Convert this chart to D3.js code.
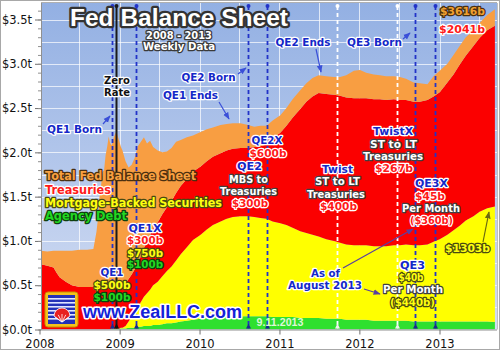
<!DOCTYPE html>
<html><head><meta charset="utf-8">
<script src="https://cdn.jsdelivr.net/npm/d3@7/dist/d3.min.js"></script>
<style>html,body{margin:0;padding:0;background:#fff;}svg{display:block;}</style>
</head><body>
<script>
// ---------- data (trillions of dollars, weekly H.4.1) ----------
const dates = ["2008-01-02","2008-02-06","2008-03-05","2008-03-19","2008-04-02","2008-04-30","2008-05-28","2008-07-02","2008-08-06","2008-09-03",
"2008-09-17","2008-09-24","2008-10-01","2008-10-08","2008-10-15","2008-10-22","2008-10-29","2008-11-05","2008-11-12","2008-11-19",
"2008-11-26","2008-12-03","2008-12-10","2008-12-17","2008-12-24","2008-12-31","2009-01-07","2009-01-14","2009-01-28","2009-02-11",
"2009-02-25","2009-03-11","2009-03-25","2009-04-08","2009-04-22","2009-05-06","2009-05-20","2009-06-03","2009-06-24","2009-07-15",
"2009-08-05","2009-08-26","2009-09-16","2009-10-07","2009-11-04","2009-12-02","2010-01-06","2010-02-03","2010-03-03","2010-04-07",
"2010-05-05","2010-06-02","2010-07-07","2010-08-11","2010-09-08","2010-10-06","2010-11-03","2010-12-01","2011-01-05","2011-02-02",
"2011-03-02","2011-04-06","2011-05-04","2011-06-01","2011-06-29","2011-08-03","2011-09-07","2011-10-05","2011-11-02","2011-12-07",
"2012-01-04","2012-02-01","2012-03-07","2012-04-04","2012-05-02","2012-06-06","2012-07-04","2012-08-01","2012-09-05","2012-10-03",
"2012-11-07","2012-12-05","2013-01-02","2013-02-06","2013-03-06","2013-04-03","2013-05-01","2013-06-05","2013-07-03","2013-08-07",
"2013-09-11"];
const totalAssets = [0.89,0.88,0.89,0.89,0.89,0.89,0.89,0.90,0.90,0.91,
1.10,1.25,1.50,1.62,1.78,1.80,1.97,2.06,2.18,2.10,
2.08,2.15,2.20,2.24,2.18,2.12,2.06,2.02,1.90,1.83,
1.86,1.94,2.07,2.12,2.17,2.10,2.13,2.06,2.02,2.00,
2.01,2.05,2.12,2.14,2.17,2.19,2.23,2.26,2.28,2.31,
2.32,2.33,2.33,2.31,2.29,2.30,2.30,2.36,2.42,2.50,
2.60,2.70,2.78,2.84,2.87,2.86,2.85,2.85,2.87,2.92,
2.93,2.90,2.88,2.87,2.86,2.86,2.85,2.83,2.79,2.78,
2.77,2.86,2.92,3.00,3.10,3.20,3.30,3.38,3.46,3.55,
3.616];
const treasuries = [0.74,0.72,0.70,0.64,0.59,0.54,0.50,0.48,0.48,0.48,
0.48,0.48,0.48,0.48,0.48,0.48,0.48,0.48,0.48,0.48,
0.48,0.48,0.48,0.48,0.48,0.48,0.48,0.48,0.48,0.48,
0.48,0.48,0.49,0.52,0.55,0.58,0.61,0.64,0.67,0.70,
0.72,0.74,0.76,0.77,0.77,0.77,0.77,0.77,0.77,0.77,
0.77,0.77,0.77,0.77,0.79,0.81,0.84,0.94,1.02,1.12,
1.24,1.38,1.48,1.56,1.62,1.64,1.65,1.66,1.66,1.66,
1.66,1.66,1.66,1.66,1.65,1.65,1.64,1.63,1.62,1.62,
1.63,1.64,1.66,1.72,1.76,1.82,1.86,1.92,1.96,2.01,
2.041];
const mbs = [0,0,0,0,0,0,0,0,0,0,
0,0,0,0,0,0,0,0,0,0,
0,0,0,0,0,0,0.01,0.01,0.03,0.07,
0.12,0.18,0.22,0.28,0.33,0.37,0.41,0.45,0.49,0.54,
0.59,0.64,0.70,0.76,0.83,0.90,0.95,1.00,1.04,1.07,
1.10,1.12,1.13,1.13,1.12,1.11,1.10,1.08,1.06,1.04,
1.01,0.98,0.96,0.94,0.92,0.90,0.88,0.86,0.85,0.84,
0.84,0.84,0.84,0.84,0.84,0.85,0.85,0.86,0.86,0.86,
0.87,0.90,0.93,0.98,1.03,1.08,1.14,1.19,1.24,1.28,
1.303];
const agencyDebt = [0,0,0,0,0,0,0,0,0,0,
0,0,0,0,0,0,0,0,0,0,
0.01,0.01,0.01,0.01,0.01,0.01,0.01,0.01,0.01,0.02,
0.02,0.02,0.03,0.03,0.04,0.04,0.04,0.05,0.05,0.06,
0.07,0.07,0.08,0.09,0.10,0.11,0.12,0.13,0.14,0.15,
0.15,0.15,0.15,0.15,0.15,0.15,0.15,0.14,0.14,0.14,
0.14,0.13,0.13,0.13,0.13,0.12,0.12,0.12,0.11,0.11,
0.11,0.11,0.10,0.10,0.10,0.10,0.10,0.10,0.09,0.09,
0.09,0.09,0.09,0.09,0.09,0.09,0.09,0.09,0.09,0.09,
0.085];
const yTickValues = [0,0.5,1.0,1.5,2.0,2.5,3.0,3.5];
const yTickLabels = ["$0.0t","$0.5t","$1.0t","$1.5t","$2.0t","$2.5t","$3.0t","$3.5t"];
const xTickLabels = ["2008","2009","2010","2011","2012","2013"];
const eventDates = ["2008-11-25","2008-12-16","2009-03-18","2010-08-10","2010-11-03","2011-09-21","2012-06-20","2012-09-13","2012-12-12"];
const eventKinds = ["blue","black","blue","blue","blue","white","white","blue","blue"];

// ---------- chart ----------
const W = 500, H = 350;
const plot = {l: 41, r: 497, t: 3, b: 329.5};
const parse = d3.timeParse("%Y-%m-%d");
const svg = d3.select("body").append("svg").attr("width", W).attr("height", H)
  .style("font-family", "'DejaVu Sans', Verdana, sans-serif");

const x = d3.scaleTime().domain([new Date(2008,0,1), new Date(2013,0,1)]).range([39.5, 439.5]);
const y = d3.scaleLinear().domain([0, 3.5]).range([plot.b, 19.5]);

const defs = svg.append("defs");
const grad = defs.append("linearGradient").attr("id","bg").attr("x1",0).attr("y1",0).attr("x2",0).attr("y2",1);
grad.append("stop").attr("offset","0%").attr("stop-color","#93b0e3");
grad.append("stop").attr("offset","100%").attr("stop-color","#d4def3");
defs.append("clipPath").attr("id","clip").append("rect")
  .attr("x", plot.l).attr("y", plot.t).attr("width", plot.r - plot.l).attr("height", plot.b - plot.t);
function marker(id, color) {
  defs.append("marker").attr("id", id).attr("viewBox","0 0 10 10").attr("refX",9).attr("refY",5)
    .attr("markerWidth",6).attr("markerHeight",6).attr("orient","auto-start-reverse")
    .append("path").attr("d","M0,1L10,5L0,9z").attr("fill", color);
}
marker("ab", "#3a4fd8"); marker("ap", "#5a3fa0"); marker("ay", "#6b6a10");

// outer frame
svg.append("rect").attr("x",0.5).attr("y",0.5).attr("width",W-1).attr("height",H-1).attr("fill","#fff").attr("stroke","#a8a8a8");
// plot background
svg.append("rect").attr("x", plot.l).attr("y", plot.t).attr("width", plot.r - plot.l).attr("height", plot.b - plot.t).attr("fill","url(#bg)");

const pg = svg.append("g").attr("clip-path","url(#clip)");
// gridlines
const gridY = d3.range(0, 3.76, 0.25);
pg.selectAll("line.gy").data(gridY).join("line")
  .attr("x1", plot.l).attr("x2", plot.r).attr("y1", d => Math.round(y(d)) + 0.5).attr("y2", d => Math.round(y(d)) + 0.5)
  .attr("stroke","#fff").attr("stroke-opacity",0.7);
const gridX = d3.timeMonth.every(6).range(new Date(2008,6,1), new Date(2014,0,1));
pg.selectAll("line.gx").data(gridX).join("line")
  .attr("y1", plot.t).attr("y2", plot.b).attr("x1", d => Math.round(x(d)) + 0.5).attr("x2", d => Math.round(x(d)) + 0.5)
  .attr("stroke","#fff").attr("stroke-opacity",0.7);

// stacked areas
const rows = dates.map((d, i) => ({
  date: parse(d), agency: agencyDebt[i], mbs: mbs[i], treasuries: treasuries[i],
  other: Math.max(0, totalAssets[i] - agencyDebt[i] - mbs[i] - treasuries[i])
}));
const keys = ["agency","mbs","treasuries","other"];
const colors = {agency:"#2fe02f", mbs:"#ffff00", treasuries:"#fb0000", other:"#f89e42"};
const series = d3.stack().keys(keys)(rows);
const area = d3.area().x(d => x(d.data.date)).y0(d => y(d[0])).y1(d => y(d[1])).curve(d3.curveLinear);
pg.selectAll("path.layer").data(series).join("path")
  .attr("d", area).attr("fill", s => colors[s.key]);

// axes
svg.append("line").attr("x1", plot.l + 0.5).attr("x2", plot.l + 0.5).attr("y1", plot.t).attr("y2", plot.b).attr("stroke","#909090");
svg.append("line").attr("x1", plot.l).attr("x2", plot.r).attr("y1", plot.t - 0.5).attr("y2", plot.t - 0.5).attr("stroke","#b0b0b0");
svg.append("line").attr("x1", plot.r + 0.5).attr("x2", plot.r + 0.5).attr("y1", plot.t).attr("y2", plot.b).attr("stroke","#c0c0c0");
const yAxis = d3.axisLeft(y).tickValues(yTickValues).tickFormat((d, i) => yTickLabels[i]).tickSize(6).tickSizeOuter(0);
const ya = svg.append("g").attr("transform", `translate(${plot.l},0)`).call(yAxis);
ya.select(".domain").remove();
ya.selectAll("line").attr("stroke","#707070");
ya.selectAll("text").attr("font-size", 11.5).attr("fill","#111").attr("x", -9).style("font-family","'DejaVu Sans', Verdana, sans-serif");
const yMinor = d3.axisLeft(y).tickValues(d3.range(0, 3.61, 0.1)).tickFormat("").tickSize(3).tickSizeOuter(0);
const ym = svg.append("g").attr("transform", `translate(${plot.l},0)`).call(yMinor);
ym.select(".domain").remove(); ym.selectAll("line").attr("stroke","#909090");

const xAxis = d3.axisBottom(x).tickValues(xTickLabels.map(s => new Date(+s, 0, 1))).tickFormat((d, i) => xTickLabels[i]).tickSize(5).tickSizeOuter(0);
const xa = svg.append("g").attr("transform", `translate(0,${plot.b})`).call(xAxis);
xa.select(".domain").attr("stroke","#909090").attr("d", `M${plot.l},0.5H${plot.r}`);
xa.selectAll("line").attr("stroke","#707070");
xa.selectAll("text").attr("font-size", 11.5).attr("fill","#111").attr("dy", "0.9em").style("font-family","'DejaVu Sans', Verdana, sans-serif");

// event lines
const eg = svg.append("g");
eventDates.forEach((d, i) => {
  const k = eventKinds[i], xx = Math.round(x(parse(d))) + 0.5;
  const col = k === "blue" ? "#2233c8" : k === "white" ? "#ffffff" : "#1a1a1a";
  eg.append("line").attr("x1", xx).attr("x2", xx).attr("y1", 6).attr("y2", plot.b - 1)
    .attr("stroke", col).attr("stroke-width", k === "black" ? 2 : 1.8)
    .attr("stroke-dasharray", k === "black" ? null : "4,3");
  eg.append("circle").attr("cx", xx).attr("cy", 6).attr("r", 2).attr("fill", col);
  eg.append("path").attr("d", `M${xx-2.5},${plot.b-1}L${xx},${plot.b-6}L${xx+2.5},${plot.b-1}Z`).attr("fill", k === "white" ? "#f0f0f0" : (k === "black" ? "#111" : "#1a2a90"));
});

// text helper
const tg = svg.append("g");
function lab(t, cx, by, o) {
  const el = tg.append("text").attr("x", cx).attr("y", by).text(t)
    .attr("text-anchor", o.anchor || "middle").attr("font-weight", "bold")
    .attr("font-size", o.size || 11).attr("fill", o.fill)
    .attr("stroke", o.stroke).attr("stroke-width", o.sw || 2.6)
    .attr("stroke-linejoin","round").attr("paint-order","stroke")
    .style("font-family", o.family || "'DejaVu Sans', Verdana, sans-serif");
  if (o.w) el.attr("textLength", o.w).attr("lengthAdjust", "spacingAndGlyphs");
  return el;
}
const BLUE = {fill:"#1428c8", stroke:"#ffffff"};
const RED = {fill:"#ff1a1a", stroke:"#ffffff"};
const YEL = {fill:"#ffff10", stroke:"#4a4a10"};
const GRN = {fill:"#22d822", stroke:"#0e400e"};
const WHT = {fill:"#ffffff", stroke:"#404040"};
const o = (a, b) => Object.assign({}, a, b);

// title
lab("Fed Balance Sheet", 179, 26, {fill:"#ffffff", stroke:"#333", sw:4.5, size:23, w:218, family:"'Liberation Sans', Arial, sans-serif"});
lab("2008 - 2013", 179, 38.5, o(WHT, {size:10, w:66, stroke:"#3a3a3a"}));
lab("Weekly Data", 179, 50, o(WHT, {size:10, w:72, stroke:"#3a3a3a"}));

// legend
lab("Total Fed Balance Sheet", 45, 180, {fill:"#f8a040", stroke:"#4a3010", anchor:"start", size:12, w:151});
lab("Treasuries", 45, 193.5, o(RED, {anchor:"start", size:12, w:66}));
lab("Mortgage-Backed Securities", 45, 206.5, o(YEL, {anchor:"start", size:12, w:177}));
lab("Agency Debt", 45, 220, o(GRN, {anchor:"start", size:12, w:82}));

// arrows
function arrow(x1, y1, x2, y2, m, c) {
  tg.append("line").attr("x1", x1).attr("y1", y1).attr("x2", x2).attr("y2", y2)
    .attr("stroke", c).attr("stroke-width", 1.2).attr("marker-end", `url(#${m})`);
}
arrow(103, 124, 110, 116, "ab", "#3a4fd8");
arrow(219, 102, 229, 119, "ab", "#3a4fd8");
arrow(238, 74, 246, 68, "ab", "#3a4fd8");
arrow(316, 49, 321, 72, "ab", "#3a4fd8");
arrow(403, 39, 410, 33, "ab", "#3a4fd8");
arrow(343, 268, 413, 229, "ap", "#5a3fa0");
arrow(364, 289, 380, 294, "ap", "#5a3fa0");
arrow(483, 242, 489, 212, "ay", "#6b6a10");

// annotations
lab("Zero", 117, 84, {fill:"#111", stroke:"#fff", size:10.5, w:26});
lab("Rate", 117, 95.5, {fill:"#111", stroke:"#fff", size:10.5, w:26});
lab("QE1 Born", 74.5, 133, o(BLUE, {w:55}));
lab("QE1 Ends", 190.5, 99, o(BLUE, {w:55}));
lab("QE2 Born", 208.5, 81, o(BLUE, {w:54}));
lab("QE2 Ends", 303, 46, o(BLUE, {w:55}));
lab("QE3 Born", 374.5, 46, o(BLUE, {w:55}));
lab("$3616b", 462.5, 15, {fill:"#f0a030", stroke:"#4a3010", size:11, w:45});
lab("$2041b", 462, 33, o(RED, {w:46}));

lab("QE1", 112, 275.5, o(BLUE, {w:23}));
lab("$500b", 112, 288.5, o(YEL, {w:37}));
lab("$100b", 112, 301, o(GRN, {w:37, size:10.5}));
lab("QE1X", 145, 232, o(BLUE, {w:33}));
lab("$300b", 145, 244, o(RED, {w:36}));
lab("$750b", 145, 256.5, o(YEL, {w:36}));
lab("$100b", 145, 268, o(GRN, {w:36}));

lab("QE2X", 267, 144, o(BLUE, {w:31}));
lab("$600b", 268, 157, o(RED, {w:37}));
lab("QE2", 249.5, 170, o(BLUE, {w:25}));
lab("MBS to", 248.5, 182.5, o(WHT, {w:39}));
lab("Treasuries", 248.5, 194.5, o(WHT, {w:57}));
lab("$300b", 250, 207, o(RED, {w:36}));

lab("Twist", 337.5, 172.5, o(BLUE, {w:31}));
lab("ST to LT", 337.5, 185, o(WHT, {w:45}));
lab("Treasuries", 336, 197.5, o(WHT, {w:58}));
lab("$400b", 338.5, 209.5, o(RED, {w:37}));

lab("TwistX", 393, 135, o(BLUE, {w:40}));
lab("ST to LT", 393.5, 147.5, o(WHT, {w:47}));
lab("Treasuries", 393, 159.5, o(WHT, {w:60}));
lab("$267b", 394, 172, o(RED, {w:38}));

lab("QE3X", 431.5, 187, o(BLUE, {w:33}));
lab("$45b", 430, 199.5, o(RED, {w:30}));
lab("Per Month", 431, 211.5, o(WHT, {w:58}));
lab("($360b)", 431.5, 224, o(RED, {w:43}));

lab("As of", 325.5, 277, o(BLUE, {w:29}));
lab("August 2013", 325, 289, o(BLUE, {w:74}));
lab("QE3", 412.5, 268.5, o(BLUE, {w:25}));
lab("$40b", 411, 281, o(YEL, {w:25}));
lab("Per Month", 413, 292.5, o(WHT, {w:60}));
lab("($440b)", 412.5, 306, o(YEL, {w:45}));
lab("$1303b", 467.5, 251.5, o(YEL, {w:45}));

tg.append("text").attr("x", 280).attr("y", 326).attr("text-anchor","middle").attr("font-size", 10)
  .attr("font-weight","bold").attr("fill","#dff7d8").attr("textLength", 47).attr("lengthAdjust","spacingAndGlyphs")
  .style("font-family","'Liberation Sans', Arial, sans-serif").text("9.11.2013");

// website + logo
lab("www.ZealLLC.com", 162.5, 318, {fill:"#1422d8", stroke:"#ffffff", sw:3, size:17.5, w:159, family:"'Liberation Sans', Arial, sans-serif"});
const lg = svg.append("g").attr("transform","translate(45,292)");
lg.append("rect").attr("width",33).attr("height",35).attr("rx",3).attr("fill","#f4c21a").attr("stroke","#c89000");
lg.append("rect").attr("x",3).attr("y",3).attr("width",27).attr("height",29).attr("fill","#2431b8");
[6,10,14,18,22,26].forEach(v => lg.append("rect").attr("x",3).attr("y",v).attr("width",27).attr("height",1.6).attr("fill","#dfe6ff"));
lg.append("path").attr("d","M9,24 A8,8 0 0 1 25,24 L17,30 Z").attr("fill","#e82020").attr("stroke","#fff").attr("stroke-width",0.8);
[-50,-25,0,25,50].forEach(a => {
  const r = a * Math.PI / 180;
  lg.append("line").attr("x1",17).attr("y1",30).attr("x2",17 + 9 * Math.sin(r)).attr("y2",30 - 9 * Math.cos(r) + 1)
    .attr("stroke","#fff").attr("stroke-width",0.8);
});
</script>
</body></html>
